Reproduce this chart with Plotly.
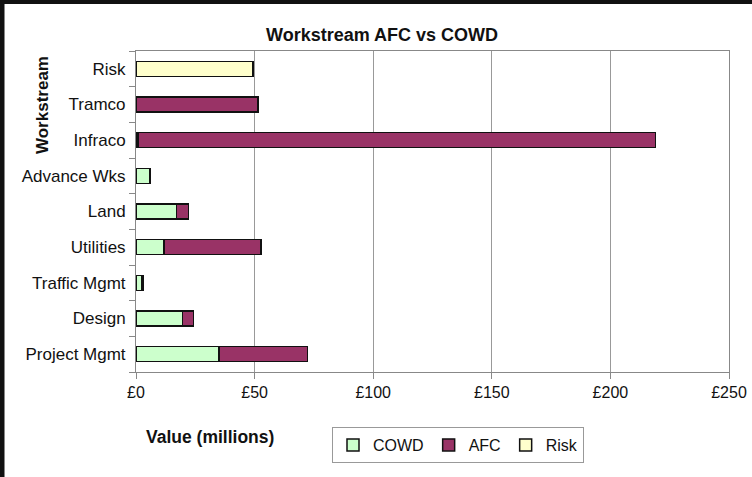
import plotly.graph_objects as go

categories = ["Project Mgmt", "Design", "Traffic Mgmt", "Utilities", "Land",
              "Advance Wks", "Infraco", "Tramco", "Risk"]
cowd = [35, 19.7, 2.5, 11.8, 17, 6, 0.8, 0, 0]
afc = [37.2, 4.5, 0.5, 40.8, 5.2, 0, 218.2, 51.5, 0]
risk = [0, 0, 0, 0, 0, 0, 0, 0, 49.3]
x_ticks = [0, 50, 100, 150, 200, 250]
x_tick_labels = ["£" + str(v) for v in x_ticks]

FONT = "Liberation Sans, Arial, sans-serif"
line = dict(color="#111111", width=1.5)

W, H = 752, 477
L, R, T, B = 136, 23, 51, 105
PW, PH = W - L - R, H - T - B


def px_x(x):
    return (x - L) / PW


def px_y(y):
    return (H - B - y) / PH


fig = go.Figure()
fig.add_trace(go.Bar(y=categories, x=cowd, name="COWD", orientation="h",
                     marker=dict(color="#CCFFCC", line=line)))
fig.add_trace(go.Bar(y=categories, x=afc, name="AFC", orientation="h",
                     marker=dict(color="#993366", line=line)))
fig.add_trace(go.Bar(y=categories, x=risk, name="Risk", orientation="h",
                     marker=dict(color="#FFFFCC", line=line)))

fig.update_layout(
    width=W, height=H,
    barmode="stack", bargap=0.58,
    paper_bgcolor="white", plot_bgcolor="white",
    margin=dict(l=L, r=R, t=T, b=B, autoexpand=False),
    font=dict(family=FONT, size=16, color="#111111"),
    title=dict(text="<b>Workstream AFC vs COWD</b>", x=382 / W, xanchor="center",
               y=1 - 35 / H, yanchor="middle", font=dict(size=18)),
    showlegend=True,
    legend=dict(orientation="h", x=px_x(458), y=px_y(427),
                xanchor="center", yanchor="top",
                bordercolor="#999999", borderwidth=1,
                font=dict(size=16), itemwidth=30, tracegroupgap=0,
                traceorder="normal"),
    xaxis=dict(range=[0, 250], tickvals=x_ticks, ticktext=x_tick_labels,
               showgrid=True, gridcolor="#999999", gridwidth=1,
               showline=True, linecolor="#888888", linewidth=1, mirror=True,
               ticks="outside", ticklen=6, tickcolor="#888888",
               zeroline=False, tickfont=dict(size=16)),
    yaxis=dict(categoryorder="array", categoryarray=categories,
               showline=True, linecolor="#888888", linewidth=1, mirror=True,
               ticks="outside", ticklen=6, tickcolor="#888888",
               tickson="boundaries", showgrid=False, ticklabelstandoff=6,
               tickfont=dict(size=17)),
    annotations=[
        dict(text="<b>Workstream</b>", textangle=-90, xref="paper", yref="paper",
             x=px_x(42), y=px_y(105), xanchor="center",
             yanchor="middle", showarrow=False, font=dict(size=17)),
        dict(text="<b>Value (millions)</b>", xref="paper", yref="paper",
             x=px_x(210), y=px_y(437), xanchor="center",
             yanchor="middle", showarrow=False, font=dict(size=17.5)),
    ],
    shapes=[
        dict(type="line", xref="paper", yref="paper",
             x0=px_x(2), x1=px_x(2), y0=px_y(H), y1=px_y(0),
             line=dict(color="#111111", width=5)),
        dict(type="line", xref="paper", yref="paper",
             x0=px_x(0), x1=px_x(W), y0=px_y(2), y1=px_y(2),
             line=dict(color="#111111", width=4)),
    ],
)

fig.write_html("out.html",
               config={"displayModeBar": False},
               post_script="document.body.style.margin='0';"
                           "document.body.style.overflow='hidden';")
